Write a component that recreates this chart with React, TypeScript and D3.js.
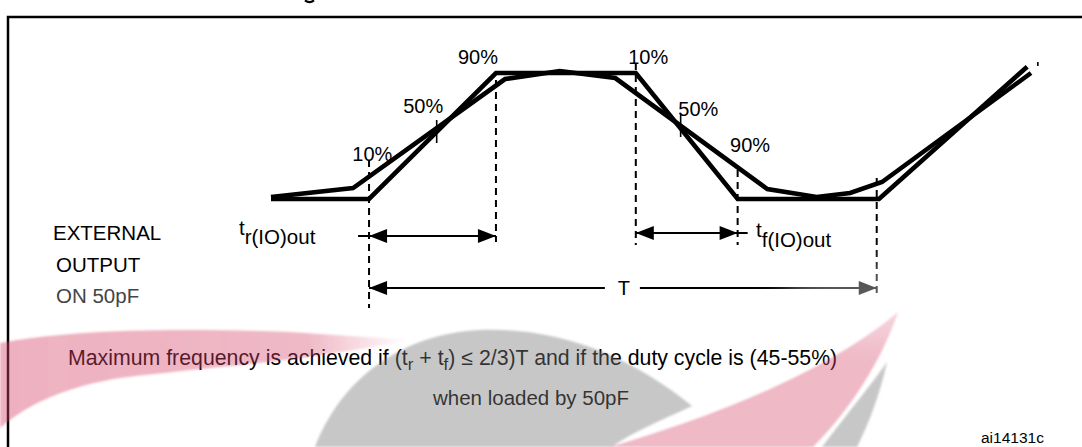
import React from "react";
import * as d3 from "d3";

// ---- data (time in arbitrary units 0..100, level as fraction of swing 0..1) ----
const idealTime = [0, 12.9, 29.6, 48.0, 61.4, 80.0, 99.5];
const idealLevel = [0, 0, 1, 1, 0, 0, 1.05];

const actualTime = [0, 10.8, 30.8, 38.0, 45.3, 65.3, 71.8, 76.2, 80.4, 100];
const actualLevel = [0.016, 0.087, 0.952, 1.016, 0.96, 0.079, 0.016, 0.048, 0.135, 1.0];

// threshold labels (text, time, level)
const thresholdText = ["10%", "50%", "90%", "10%", "50%", "90%"];
const thresholdTime = [10.7, 17.4, 24.6, 47.0, 53.6, 60.4];
const thresholdLevel = [0.302, 0.683, 1.071, 1.071, 0.659, 0.373];

// short tick marks at 50% crossings and end
const tickTime = [21.8, 53.9, 100.9];
const tickFrom = [0.444, 0.492, 1.056];
const tickTo = [0.627, 0.683, 1.087];

// dashed reference lines (time, from level, to level)
const guideTime = [12.9, 29.6, 48.0, 61.4, 79.7];
const guideFrom = [0.31, 0.944, 1.08, 0.23, 0.167];
const guideTo = [-0.865, -0.341, -0.365, -0.365, -0.778];

// dimension arrows
const riseSpan = [12.9, 29.6];
const fallSpan = [48.0, 61.4];
const periodSpan = [12.9, 79.7];
const riseLevel = -0.294;
const fallLevel = -0.27;
const periodLevel = -0.706;

const labelLines = ["EXTERNAL", "OUTPUT", "ON 50pF"];

const W = 1082;
const H = 447;
const FONT = "'Liberation Sans', Arial, Helvetica, sans-serif";

const x = d3.scaleLinear().domain([0, 100]).range([271, 1031]);
const y = d3.scaleLinear().domain([0, 1]).range([199, 73]);

function pathFrom(ts: number[], vs: number[]) {
  const pts: [number, number][] = ts.map((t, i) => [t, vs[i]]);
  return d3
    .line<[number, number]>()
    .x((d) => x(d[0]))
    .y((d) => y(d[1]))(pts) as string;
}

function head(tx: number, ty: number, dir: number, len = 18, half = 7) {
  return `${tx},${ty} ${tx - dir * len},${ty - half} ${tx - dir * len},${ty + half}`;
}

export default function App() {
  const rY = y(riseLevel);
  const fY = y(fallLevel);
  const pY = y(periodLevel);
  const tMid = x((periodSpan[0] + periodSpan[1]) / 2) + 1;

  return (
    <svg
      width={W}
      height={H}
      style={{ position: "absolute", left: 0, top: 0, background: "#fff" }}
      fontFamily={FONT}
    >
      <defs>
        <linearGradient id="pinkL" x1="0" x2="1" y1="0" y2="0">
          <stop offset="0" stopColor="#d6466a" stopOpacity="0.42" />
          <stop offset="0.75" stopColor="#d6466a" stopOpacity="0.38" />
          <stop offset="1" stopColor="#d6466a" stopOpacity="0" />
        </linearGradient>
        <filter id="soft" x="-20%" y="-20%" width="140%" height="140%">
          <feGaussianBlur stdDeviation="1.2" />
        </filter>
        <filter id="blurW" x="-50%" y="-50%" width="200%" height="200%">
          <feGaussianBlur stdDeviation="14" />
        </filter>
      </defs>

      {/* fragment of the cut-off caption above the frame */}
      <path d="M305,0.3 Q309.5,4 314,0.3" fill="none" stroke="#000" strokeWidth={2.2} />

      {/* frame */}
      <path d={`M8,${H} V17 H${W}`} fill="none" stroke="#000" strokeWidth={2.5} />

      {/* side label */}
      {labelLines.map((s, i) => (
        <text
          key={s}
          x={i === 0 ? 53 : 56}
          y={240 + i * 31.5}
          fontSize={20.5}
          fill={i === 2 ? "#444" : "#000"}
        >
          {s}
        </text>
      ))}

      {/* dashed guides */}
      {guideTime.map((t, i) => (
        <line
          key={"g" + i}
          x1={x(t)}
          x2={x(t)}
          y1={y(guideFrom[i])}
          y2={y(guideTo[i])}
          stroke="#000"
          strokeWidth={2}
          strokeDasharray="7 5"
        />
      ))}

      {/* ticks */}
      {tickTime.map((t, i) => (
        <line
          key={"t" + i}
          x1={x(t)}
          x2={x(t)}
          y1={y(tickFrom[i])}
          y2={y(tickTo[i])}
          stroke="#000"
          strokeWidth={1.6}
        />
      ))}

      {/* waveforms */}
      <path d={pathFrom(idealTime, idealLevel)} fill="none" stroke="#000" strokeWidth={4.6} strokeLinejoin="miter" />
      <path d={pathFrom(actualTime, actualLevel)} fill="none" stroke="#000" strokeWidth={4.6} strokeLinejoin="miter" />

      {/* threshold labels */}
      {thresholdText.map((s, i) => (
        <text key={"th" + i} x={x(thresholdTime[i])} y={y(thresholdLevel[i])} fontSize={20}>
          {s}
        </text>
      ))}

      {/* rise arrow */}
      <line x1={x(riseSpan[0]) - 11} x2={x(riseSpan[1])} y1={rY} y2={rY} stroke="#000" strokeWidth={2} />
      <polygon points={head(x(riseSpan[0]), rY, -1)} fill="#000" />
      <polygon points={head(x(riseSpan[1]), rY, 1)} fill="#000" />
      <text x={239} y={235} fontSize={20.5}>
        t<tspan dy={8.5}>r(IO)out</tspan>
      </text>

      {/* fall arrow */}
      <line x1={x(fallSpan[0])} x2={x(fallSpan[1]) + 10} y1={fY} y2={fY} stroke="#000" strokeWidth={2} />
      <polygon points={head(x(fallSpan[0]), fY, -1)} fill="#000" />
      <polygon points={head(x(fallSpan[1]), fY, 1)} fill="#000" />
      <text x={756} y={237} fontSize={20.5}>
        t<tspan dy={9.5}>f(IO)out</tspan>
      </text>

      {/* period arrow */}
      <line x1={x(periodSpan[0])} x2={tMid - 19} y1={pY} y2={pY} stroke="#000" strokeWidth={2} />
      <line x1={tMid + 16} x2={x(periodSpan[1])} y1={pY} y2={pY} stroke="#000" strokeWidth={2} />
      <polygon points={head(x(periodSpan[0]), pY, -1)} fill="#000" />
      <polygon points={head(x(periodSpan[1]), pY, 1)} fill="#000" />
      <text x={tMid} y={pY + 7} fontSize={20} textAnchor="middle">T</text>

      {/* notes */}
      <text x={68} y={365} fontSize={21.3}>
        Maximum frequency is achieved if (t<tspan dy={5} fontSize={17}>r</tspan>
        <tspan dy={-5}> + t</tspan>
        <tspan dy={5} fontSize={17}>f</tspan>
        <tspan dy={-5}>) ≤ 2/3)T and if the duty cycle is (45-55%)</tspan>
      </text>
      <text x={531} y={405} fontSize={20.5} textAnchor="middle">when loaded by 50pF</text>
      <text x={981} y={443} fontSize={15.5}>ai14131c</text>

      {/* watermark overlay */}
      <g filter="url(#soft)">
        <path
          d="M0,343 C60,331 160,327 290,332 L410,340 C300,362 200,368 120,378 C70,386 30,402 0,428 Z"
          fill="url(#pinkL)"
        />
        <path
          d="M315,447 C340,382 398,334 480,330 C565,327 635,360 692,406 C662,420 632,432 612,447 Z"
          fill="#7a7a7a"
          opacity={0.42}
        />
        <path d="M610,447 C700,420 820,378 898,312 C882,360 850,410 813,447 Z" fill="#d6466a" opacity={0.38} />
        <path d="M822,447 C850,410 875,380 887,362 C880,395 868,425 857,447 Z" fill="#7a7a7a" opacity={0.42} />
      </g>
      <ellipse cx={880} cy={300} rx={100} ry={40} fill="#fff" opacity={0.35} filter="url(#blurW)" />
    </svg>
  );
}
